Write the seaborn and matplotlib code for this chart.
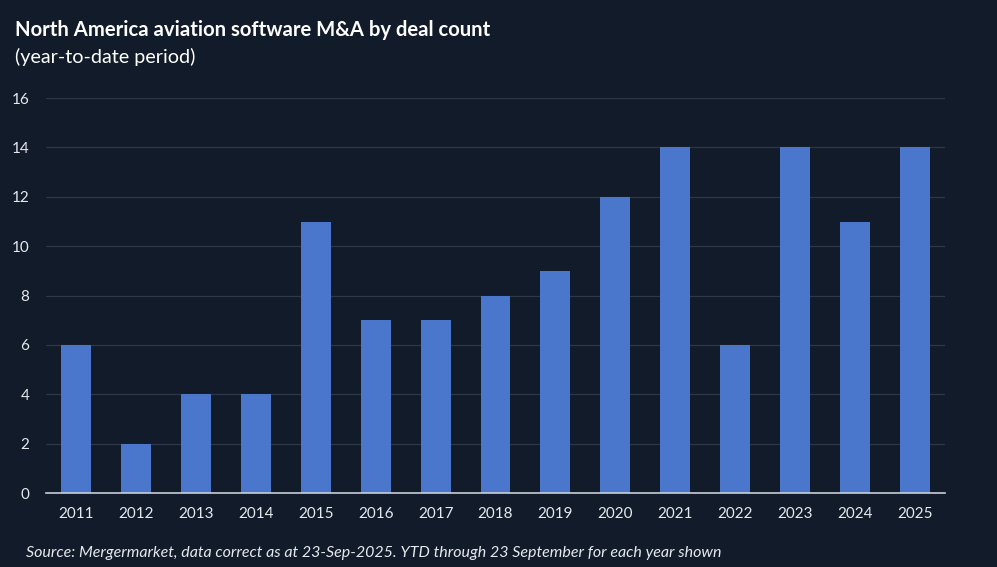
import matplotlib
matplotlib.use("Agg")
import matplotlib.pyplot as plt
import seaborn as sns
import pandas as pd

years = ["2011", "2012", "2013", "2014", "2015", "2016", "2017", "2018",
         "2019", "2020", "2021", "2022", "2023", "2024", "2025"]
deals = [6, 2, 4, 4, 11, 7, 7, 8, 9, 12, 14, 6, 14, 11, 14]

df = pd.DataFrame({"year": years, "deals": deals})

bg = "#111b29"
sns.set_theme(style="dark")
plt.rcParams["font.family"] = ["Lato", "DejaVu Sans"]

fig = plt.figure(figsize=(9.97, 5.67), dpi=100, facecolor=bg)
ax = fig.add_axes([0.046, 0.1305, 0.902, 0.6965])
ax.set_facecolor(bg)

sns.barplot(data=df, x="year", y="deals", color="#4a76cc", saturation=1,
            width=0.5, linewidth=0, edgecolor="none", ax=ax, zorder=3)

ax.set_ylim(0, 16)
ax.set_yticks(range(0, 17, 2))
ax.set_xlim(-0.5, len(years) - 0.5)
ax.set_xlabel("")
ax.set_ylabel("")
ax.yaxis.grid(True, color="#2c3849", linewidth=0.9, zorder=0)
ax.xaxis.grid(False)
for s in ["top", "right", "left"]:
    ax.spines[s].set_visible(False)
ax.spines["bottom"].set_color("#c9ced6")
ax.spines["bottom"].set_linewidth(1.2)
ax.spines["bottom"].set_zorder(4)
ax.tick_params(axis="y", length=0, pad=12, labelsize=11, labelcolor="#e6e9ee")
ax.tick_params(axis="x", length=0, pad=10, labelsize=11, labelcolor="#e6e9ee")

fig.text(0.015, 0.947, "North America aviation software M&A by deal count",
         color="white", fontsize=14.6, fontweight="bold", va="center")
fig.text(0.015, 0.9, "(year-to-date period)", color="white", fontsize=14.2,
         va="center")
fig.text(0.026, 0.025, "Source: Mergermarket, data correct as at 23-Sep-2025. YTD through 23 September for each year shown",
         color="#e6e9ee", fontsize=11.5, style="italic", va="center")

fig.savefig("out.png", dpi=100, facecolor=bg)
